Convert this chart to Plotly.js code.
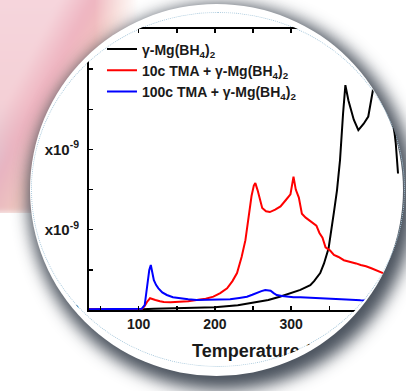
<!DOCTYPE html>
<html>
<head>
<meta charset="utf-8">
<script src="https://cdn.plot.ly/plotly-3.0.1.min.js"></script>
<style>
  html, body { margin: 0; padding: 0; width: 406px; height: 391px; overflow: hidden; background: #ffffff; }
  #bg {
    position: absolute; left: -10px; top: -10px; width: 150px; height: 223px;
    background:
      linear-gradient(118deg, rgba(0,0,0,0) 0%, rgba(0,0,0,0) 28%, rgba(236,170,184,0.75) 40%, rgba(242,196,186,0.85) 53%, rgba(240,204,198,0.5) 64%, rgba(0,0,0,0) 76%),
      linear-gradient(180deg, #f6d6dd 0%, #f4d0d6 50%, #e9ccd4 66%, #dccfdb 76%, #d8cfdc 100%);
    filter: blur(3px);
    -webkit-mask-image: linear-gradient(90deg, #000 70%, rgba(0,0,0,0) 100%);
            mask-image: linear-gradient(90deg, #000 70%, rgba(0,0,0,0) 100%);
  }
  #bgcut { position: absolute; left: 0; top: 213px; width: 160px; height: 30px; background: #ffffff; }
  #disk {
    position: absolute; left: 30px; top: 4px; width: 373px; height: 372px; border-radius: 50%;
    background: #ffffff;
    box-shadow: 5px 7px 16px 7px rgba(55,64,76,0.9);
  }
  #ring {
    position: absolute; left: 31px; top: 12px; width: 374px; height: 355px; border-radius: 50%;
    box-sizing: border-box; border: 1px dotted #a9c9dc;
  }
  #chart {
    position: absolute; left: 0; top: 0; width: 445px; height: 391px;
    clip-path: ellipse(187px 177.6px at 218px 189.6px);
  }
</style>
</head>
<body>
<div id="bg"></div>
<div id="bgcut"></div>
<div id="disk"></div>
<div id="ring"></div>
<div id="chart"></div>
<script>
// Ion current vs. temperature (values in units of 1e-9)
const pristineT = [35, 60, 90, 105, 120, 150, 180, 200, 230, 250, 270, 285, 300, 312, 325, 330, 338, 343, 349, 353, 356, 360, 364, 368, 371, 375, 382, 388, 395, 401, 406, 412, 420, 428, 437, 440];
const pristineI = [0.005, 0.005, 0.006, 0.01, 0.015, 0.02, 0.025, 0.035, 0.06, 0.09, 0.125, 0.165, 0.21, 0.25, 0.31, 0.36, 0.46, 0.58, 0.77, 1.0, 1.22, 1.49, 1.87, 2.45, 2.80, 2.61, 2.37, 2.24, 2.32, 2.41, 2.66, 3.0, 3.2, 2.8, 2.08, 1.70];

const tma10T = [35, 80, 104, 108, 111, 115, 118, 122, 128, 133, 142, 154, 165, 176, 188, 198, 207, 216, 223, 229, 235, 240, 244, 248, 251, 253, 256, 259, 262, 267, 272, 279, 286, 293, 299, 303, 306, 310, 314, 319, 325, 330, 333, 337, 341, 345, 351, 356, 362, 369, 378, 385, 391, 398, 405, 414, 425, 440];
const tma10I = [0.008, 0.008, 0.01, 0.05, 0.10, 0.146, 0.14, 0.125, 0.11, 0.10, 0.095, 0.10, 0.11, 0.125, 0.14, 0.166, 0.21, 0.27, 0.36, 0.46, 0.66, 0.87, 1.16, 1.42, 1.55, 1.58, 1.49, 1.36, 1.27, 1.23, 1.22, 1.25, 1.29, 1.37, 1.44, 1.66, 1.50, 1.40, 1.20, 1.15, 1.11, 1.08, 1.05, 0.96, 0.90, 0.78, 0.74, 0.685, 0.66, 0.62, 0.60, 0.58, 0.56, 0.545, 0.52, 0.48, 0.44, 0.40];

const tma100T = [35, 60, 90, 104, 108, 111, 114, 116, 118, 120, 123, 126, 131, 137, 145, 154, 165, 176, 187, 198, 210, 220, 232, 242, 249, 255, 261, 266, 270, 273, 277, 281, 288, 294, 303, 312, 325, 340, 356, 372, 391, 410, 430, 446];
const tma100I = [0.01, 0.01, 0.012, 0.015, 0.06, 0.30, 0.50, 0.56, 0.46, 0.37, 0.31, 0.27, 0.22, 0.187, 0.16, 0.146, 0.135, 0.125, 0.126, 0.125, 0.13, 0.133, 0.15, 0.166, 0.19, 0.216, 0.235, 0.25, 0.245, 0.24, 0.21, 0.187, 0.175, 0.166, 0.16, 0.158, 0.15, 0.145, 0.138, 0.13, 0.12, 0.115, 0.11, 0.105];

const seriesNames = [
  'γ-Mg(BH<sub>4</sub>)<sub>2</sub>',
  '10c TMA + γ-Mg(BH<sub>4</sub>)<sub>2</sub>',
  '100c TMA + γ-Mg(BH<sub>4</sub>)<sub>2</sub>'
];
const seriesColors = ['#000000', '#ff0000', '#0000ff'];

const xTickVals = [50, 100, 150, 200, 250, 300, 350, 400, 450];
const xTickText = ['', '100', '', '200', '', '300', '', '400', ''];
const yTickVals = [0, 0.5, 1, 1.5, 2, 2.5, 3];
const yTickText = ['0', '', 'x10<sup>-9</sup>', '', 'x10<sup>-9</sup>', '', 'x10<sup>-9</sup>'];

const FONT = 'Liberation Sans, Arial, sans-serif';

const traces = [
  { x: pristineT, y: pristineI, name: seriesNames[0] },
  { x: tma10T, y: tma10I, name: seriesNames[1] },
  { x: tma100T, y: tma100I, name: seriesNames[2] }
].map((t, i) => Object.assign(t, {
  type: 'scatter', mode: 'lines',
  line: { color: seriesColors[i], width: 2, shape: 'linear' }
}));

const axisCommon = {
  showline: true, linecolor: '#000', linewidth: 2, mirror: 'ticks',
  ticks: 'inside', ticklen: 4, tickwidth: 1.5, tickcolor: '#000',
  showgrid: false, zeroline: false
};

const layout = {
  width: 445, height: 391,
  margin: { l: 89, r: 5, t: 29, b: 81 },
  paper_bgcolor: 'rgba(0,0,0,0)', plot_bgcolor: 'rgba(0,0,0,0)',
  showlegend: true,
  legend: {
    x: 0.037, y: 0.984, xanchor: 'left', yanchor: 'top',
    bgcolor: 'rgba(0,0,0,0)', borderwidth: 0,
    font: { family: FONT, size: 14, weight: 'bold', color: '#1a1a1a' }
  },
  xaxis: Object.assign({}, axisCommon, {
    range: [35, 495], tickvals: xTickVals, ticktext: xTickText,
    tickfont: { family: FONT, size: 14, weight: 'bold', color: '#1a1a1a' },
    title: { text: 'Temperature (°C)', standoff: 14, font: { family: FONT, size: 18, weight: 'bold', color: '#1a1a1a' } }
  }),
  yaxis: Object.assign({}, axisCommon, {
    range: [0, 3.5], tickvals: yTickVals, ticktext: yTickText,
    ticklabelstandoff: 5,
    tickfont: { family: FONT, size: 15, weight: 'bold', color: '#1a1a1a' }
  })
};

Plotly.newPlot('chart', traces, layout, { staticPlot: true, displayModeBar: false });
</script>
</body>
</html>
